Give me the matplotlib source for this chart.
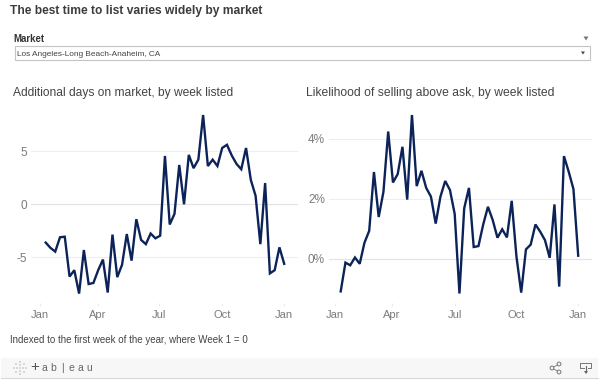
import matplotlib
matplotlib.use("Agg")
import matplotlib.pyplot as plt
from matplotlib.patches import Circle, Polygon, Rectangle

# week of the year, one point per week
weeks = list(range(1, 52))
days_on_market = [
    -3.6, -4.1, -4.45, -3.1, -3.05, -6.8, -6.2, -8.4, -4.3, -7.5,
    -7.4, -6.2, -5.2, -8.3, -2.85, -6.85, -5.7, -2.8, -5.3, -1.4,
    -3.35, -3.75, -2.75, -3.2, -2.95, 4.55, -1.9, -0.9, 3.7, 0.0,
    4.65, 3.4, 4.2, 8.4, 3.6, 4.2, 3.6, 5.3, 5.6, 4.6,
    3.8, 3.3, 5.3, 2.3, 0.8, -3.75, 2.0, -6.5, -6.2, -4.05,
    -5.6,
]
above_ask = [
    -1.09, -0.13, -0.22, 0.04, -0.17, 0.53, 0.93, 2.89, 1.39, 2.23,
    4.24, 2.54, 2.82, 3.73, 1.97, 4.79, 2.42, 2.93, 2.36, 2.07,
    1.17, 2.07, 2.59, 2.29, 1.49, -1.16, 1.68, 2.36, 0.39, 0.42,
    1.14, 1.73, 1.29, 0.70, 0.98, 0.71, 1.93, 0.07, -1.13, 0.31,
    0.47, 1.14, 0.90, 0.62, 0.03, 1.81, -0.93, 3.42, 2.90, 2.32,
    0.10,
]
month_labels = ["Jan", "Apr", "Jul", "Oct", "Jan"]
left_ticks = [-5, 0, 5]
right_ticks = [0, 2, 4]

W, H = 610, 384
LINE = "#0b2358"
GRID = "#eeeeee"
GREY = "#7b7b7b"

plt.rcParams["font.family"] = ["Liberation Sans", "DejaVu Sans"]
fig = plt.figure(figsize=(W / 100, H / 100), dpi=100, facecolor="white")


def make_axes(x0, x1, y0, y1):
    return fig.add_axes([x0 / W, 1 - y1 / H, (x1 - x0) / W, (y1 - y0) / H])


def style_axes(ax, month_pos):
    for s in ax.spines.values():
        s.set_visible(False)
    ax.grid(axis="y", color=GRID, lw=0.8)
    ax.axhline(0, color="#e4e4e4", lw=0.8, zorder=1)
    ax.set_axisbelow(True)
    ax.tick_params(axis="y", length=0, labelsize=8.5, labelcolor=GREY, pad=3)
    ax.tick_params(axis="x", length=2, color="#ececec", labelsize=8,
                   labelcolor=GREY, pad=3)
    ax.set_xticks(month_pos)
    ax.set_xticklabels(month_labels)


# days on market panel
ax0 = make_axes(31, 298, 110, 303)
ax0.plot(weeks, days_on_market, color=LINE, lw=1.7, solid_joinstyle="miter")
ax0.set_xlim(1 + (31 - 45.7) / 4.77, 1 + (298 - 45.7) / 4.77)
ax0.set_ylim((204.3 - 303) / 10.63, (204.3 - 110) / 10.63)
ax0.set_yticks(left_ticks)
ax0.set_yticklabels([str(v) for v in left_ticks])
style_axes(ax0, [-0.2, 12, 24.7, 38, 51])

# above ask panel
ax1 = make_axes(329, 592, 110, 303)
ax1.plot(weeks, above_ask, color=LINE, lw=1.7, solid_joinstyle="miter")
ax1.set_xlim(1 + (329 - 340.7) / 4.75, 1 + (592 - 340.7) / 4.75)
ax1.set_ylim((258.7 - 303) / 30, (258.7 - 110) / 30)
ax1.set_yticks(right_ticks)
ax1.set_yticklabels([f"{v}%" for v in right_ticks])
style_axes(ax1, [-0.2, 11.7, 25, 37.9, 51])

# page layer in pixel coordinates for the dashboard chrome
bg = fig.add_axes([0, 0, 1, 1], zorder=-1)
bg.set_xlim(0, W)
bg.set_ylim(H, 0)
bg.axis("off")

bg.text(10, 11, "The best time to list varies widely by market", fontsize=8.65,
        fontweight="bold", color="#3c3c3c", va="center")
bg.text(13, 38.5, "Market", fontsize=6.9, fontweight="bold", color="#333333", va="center")
bg.add_patch(Rectangle((14.5, 45.5), 575.5, 14, fc="white", ec="#c4c4c4", lw=0.8))
bg.text(17, 54, "Los Angeles-Long Beach-Anaheim, CA", fontsize=5.95,
        color="#444444", va="center")
bg.add_patch(Polygon([(583.5, 36.5), (588.5, 36.5), (586, 40.5)], fc="#777777"))
bg.add_patch(Polygon([(581, 51.5), (585, 51.5), (583, 54.5)], fc="#444444"))
bg.text(13, 93, "Additional days on market, by week listed", fontsize=8.65,
        color="#444444", va="center")
bg.text(306, 93, "Likelihood of selling above ask, by week listed", fontsize=8.7,
        color="#444444", va="center")
bg.text(10, 340, "Indexed to the first week of the year, where Week 1 = 0",
        fontsize=7, color="#444444", va="center")

# tableau toolbar
bg.add_patch(Rectangle((1, 358), 597, 20, fc="#f7f7f7", ec="none"))
bg.plot([1, 598], [378, 378], color="#d8d8d8", lw=0.8)
bg.text(35, 367.5, "+", fontsize=11, color="#555555", va="center", ha="center")
for i, ch in enumerate("ab|eau"):
    bg.text(44.5 + i * 9, 368, ch, fontsize=7.5, color="#666666", va="center", ha="center")
for dx, dy in [(0, -6), (0, 6), (-6, 0), (6, 0), (-4, -4), (4, -4), (-4, 4), (4, 4),
               (0, -3), (0, 3), (-3, 0), (3, 0), (0, 0)]:
    bg.add_patch(Circle((20 + dx, 368 + dy), 0.7, fc="#a5a5a5", ec="none"))

# share icon
for cx, cy in [(552, 368), (559, 364), (559, 372)]:
    bg.add_patch(Circle((cx, cy), 1.9, fc="none", ec="#777777", lw=0.7))
bg.plot([553.6, 557.4], [367, 365], color="#777777", lw=0.6)
bg.plot([553.6, 557.4], [369, 371], color="#777777", lw=0.6)

# download icon
bg.plot([584, 580, 580, 591, 591, 588], [368, 368, 363, 363, 368, 368],
        color="#777777", lw=0.7)
bg.plot([586, 586], [366, 372], color="#666666", lw=0.8)
bg.add_patch(Polygon([(584, 371), (588, 371), (586, 374)], fc="#666666"))

fig.savefig("out.png", dpi=100)
